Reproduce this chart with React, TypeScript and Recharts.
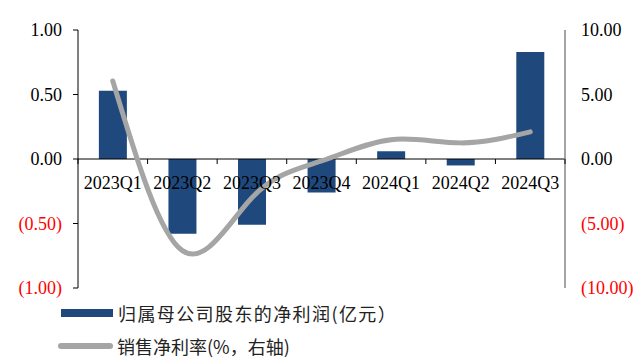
import {
  ComposedChart,
  Bar,
  Line,
  XAxis,
  YAxis,
  ReferenceLine,
} from "recharts";

const quarters = ["2023Q1", "2023Q2", "2023Q3", "2023Q4", "2024Q1", "2024Q2", "2024Q3"];
const netProfit = [0.53, -0.58, -0.51, -0.26, 0.06, -0.05, 0.83];
const netMargin = [6.05, -7.1, -3.0, -0.15, 1.5, 1.25, 2.1];
const leftTicks = [-1, -0.5, 0, 0.5, 1];
const rightTicks = [-10, -5, 0, 5, 10];

const data = quarters.map((q, i) => ({ q, profit: netProfit[i], margin: netMargin[i] }));

const W = 635;
const H = 358;
const M = { top: 30, right: 0, bottom: 69, left: 0 };
const LEFT_W = 78;
const RIGHT_W = 70;
const X_H = 1;
const plotW = W - LEFT_W - RIGHT_W;
const plotH = H - M.top - M.bottom - X_H;
const zeroY = M.top + plotH / 2;
const band = plotW / quarters.length;

const FONT = "'Liberation Serif', 'Times New Roman', 'Noto Sans CJK SC', serif";
const CJK = "'Noto Sans CJK SC', 'Liberation Serif', serif";

const fmt = (v: number) =>
  v < 0 ? `(${Math.abs(v).toFixed(2)})` : v.toFixed(2);

function NumTick(props: any) {
  const { x, y, payload, textAnchor } = props;
  const v = payload.value as number;
  return (
    <text
      x={x}
      y={y}
      dy={6}
      textAnchor={textAnchor}
      fontFamily={FONT}
      fontSize={18}
      fill={v < 0 ? "#FF0000" : "#000"}
    >
      {fmt(v)}
    </text>
  );
}

function CatTick(props: any) {
  const { x, payload, index } = props;
  const left = x - band / 2;
  const right = x + band / 2;
  return (
    <g>
      <line x1={left} x2={left} y1={zeroY} y2={zeroY + 5} stroke="#000" />
      {index === quarters.length - 1 && (
        <line x1={right} x2={right} y1={zeroY} y2={zeroY + 5} stroke="#000" />
      )}
      <text x={x} y={zeroY + 30} textAnchor="middle" fontFamily={FONT} fontSize={18} fill="#000">
        {payload.value}
      </text>
    </g>
  );
}

function LegendBox() {
  const row = { display: "flex", alignItems: "center", height: 35 } as const;
  return (
    <div
      style={{
        position: "absolute",
        left: 61,
        top: 295,
        fontFamily: CJK,
        fontSize: 18,
        color: "#222",
        lineHeight: "20px",
        whiteSpace: "nowrap",
      }}
    >
      <div style={{ ...row, letterSpacing: 1.4 }}>
        <span style={{ display: "inline-block", width: 52, height: 8, background: "#1F497D", marginRight: 5 }} />
        归属母公司股东的净利润(亿元）
      </div>
      <div style={{ ...row, marginLeft: -3, marginTop: -2 }}>
        <span
          style={{
            display: "inline-block",
            width: 55,
            height: 6,
            borderRadius: 3,
            background: "#A5A5A5",
            marginRight: 4,
          }}
        />
        销售净利率(%，右轴)
      </div>
    </div>
  );
}

export default function App() {
  return (
    <div style={{ position: "absolute", left: 0, top: 0, width: W, height: H, background: "#fff", overflow: "hidden" }}>
      <ComposedChart width={W} height={H} data={data} margin={M} barCategoryGap="30%">
        <XAxis dataKey="q" height={X_H} axisLine={false} tickLine={false} tick={<CatTick />} interval={0} />
        <YAxis
          yAxisId="l"
          width={LEFT_W}
          domain={[-1, 1]}
          ticks={leftTicks}
          tick={<NumTick />}
          tickSize={5}
          tickMargin={11}
          axisLine={{ stroke: "#000" }}
          tickLine={{ stroke: "#000" }}
        />
        <YAxis
          yAxisId="r"
          orientation="right"
          width={RIGHT_W}
          domain={[-10, 10]}
          ticks={rightTicks}
          tick={<NumTick />}
          tickSize={0}
          tickLine={false}
          tickMargin={16}
          axisLine={{ stroke: "#868686", strokeWidth: 1.5 }}
        />
        <ReferenceLine yAxisId="l" y={0} stroke="#000" />
        <Bar yAxisId="l" dataKey="profit" fill="#1F497D" isAnimationActive={false} />
        <Line
          yAxisId="r"
          dataKey="margin"
          type="natural"
          stroke="#A5A5A5"
          strokeWidth={5}
          strokeLinecap="round"
          dot={false}
          activeDot={false}
          isAnimationActive={false}
        />
      </ComposedChart>
      <LegendBox />
    </div>
  );
}
